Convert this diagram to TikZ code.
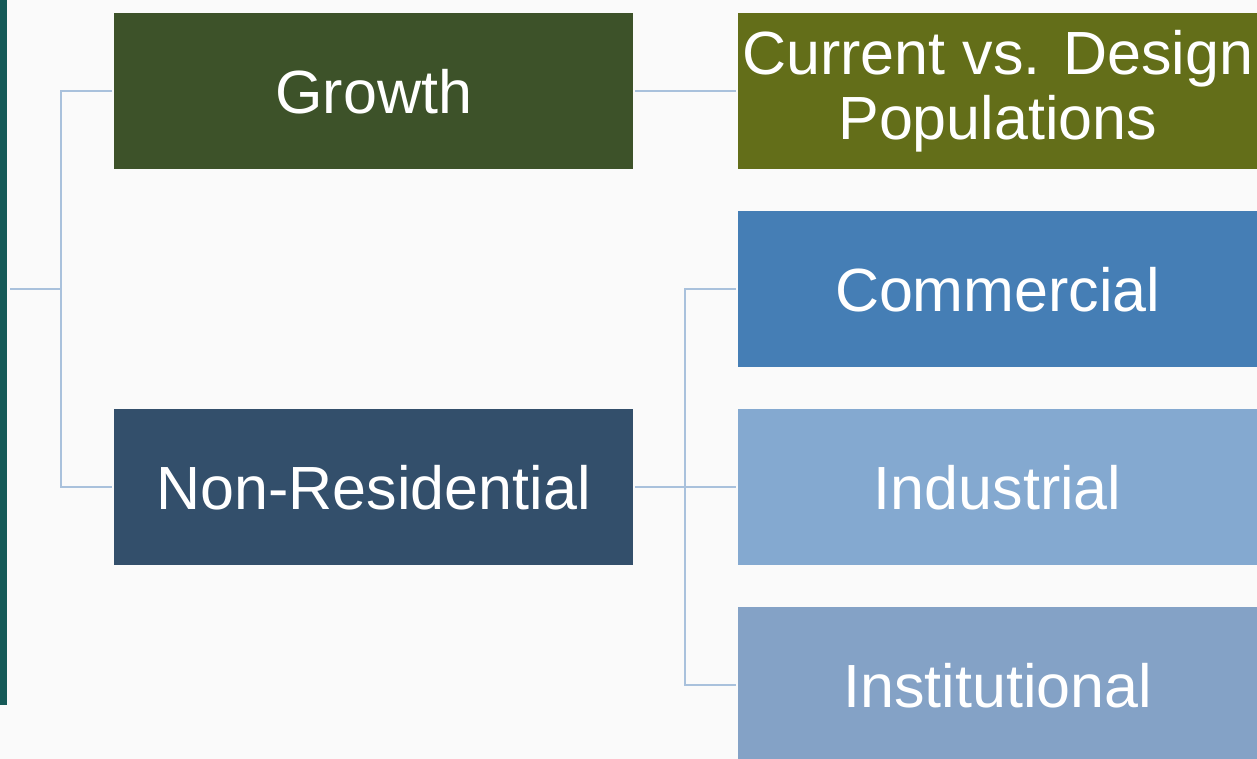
\documentclass[tikz,border=0pt]{standalone}
\usepackage{fontspec}
\setmainfont{Liberation Sans}
\usepackage{xcolor}
\usetikzlibrary{positioning}

\definecolor{barteal}{HTML}{165A58}
\definecolor{growthgreen}{HTML}{3D5229}
\definecolor{olive}{HTML}{636E19}
\definecolor{nonresblue}{HTML}{334F6B}
\definecolor{commblue}{HTML}{457EB5}
\definecolor{indblue}{HTML}{84A9D0}
\definecolor{instblue}{HTML}{84A2C6}
\definecolor{linkblue}{HTML}{A9C1DC}
\definecolor{bggray}{HTML}{FAFAFA}

\begin{document}
\begin{tikzpicture}[x=1pt,y=-1pt]
\tikzset{box/.style={rectangle,anchor=north west,inner sep=0pt,minimum width=519pt,minimum height=156pt,text=white,align=center,font=\fontsize{61}{65}\selectfont}}
\tikzset{link/.style={draw=linkblue,line width=2pt}}

\useasboundingbox (0,0) rectangle (1257,759);
\clip (0,0) rectangle (1257,759);
\fill[bggray] (0,0) rectangle (1257,759);
\fill[barteal] (0,0) rectangle (7,705);

\node[box,fill=growthgreen] (growth) at (114,13) {Growth};
\node[box,fill=nonresblue] (nonres) at (114,409) {Non-Residential};
\node[box,fill=olive] (current) at (738,13) {Current vs. Design\\Populations};
\node[box,fill=commblue] (commercial) at (738,211) {Commercial};
\node[box,fill=indblue] (industrial) at (738,409) {Industrial};
\node[box,fill=instblue] (institutional) at (738,607) {Institutional};

\coordinate (root) at (10,289);
\coordinate (leftjoin) at (61,289);
\coordinate (rightjoin) at (685,487);

\draw[link] (root) -- (leftjoin);
\draw[link,shorten <=2pt] (growth.west) -| (leftjoin);
\draw[link,shorten >=2pt] (leftjoin) |- (nonres.west);
\draw[link,shorten <=2pt,shorten >=2pt] (growth.east) -- (current.west);
\draw[link,shorten <=2pt,shorten >=2pt] (nonres.east) -- (industrial.west);
\draw[link,shorten <=2pt] (commercial.west) -| (rightjoin);
\draw[link,shorten >=2pt] (rightjoin) |- (institutional.west);

\end{tikzpicture}
\end{document}
